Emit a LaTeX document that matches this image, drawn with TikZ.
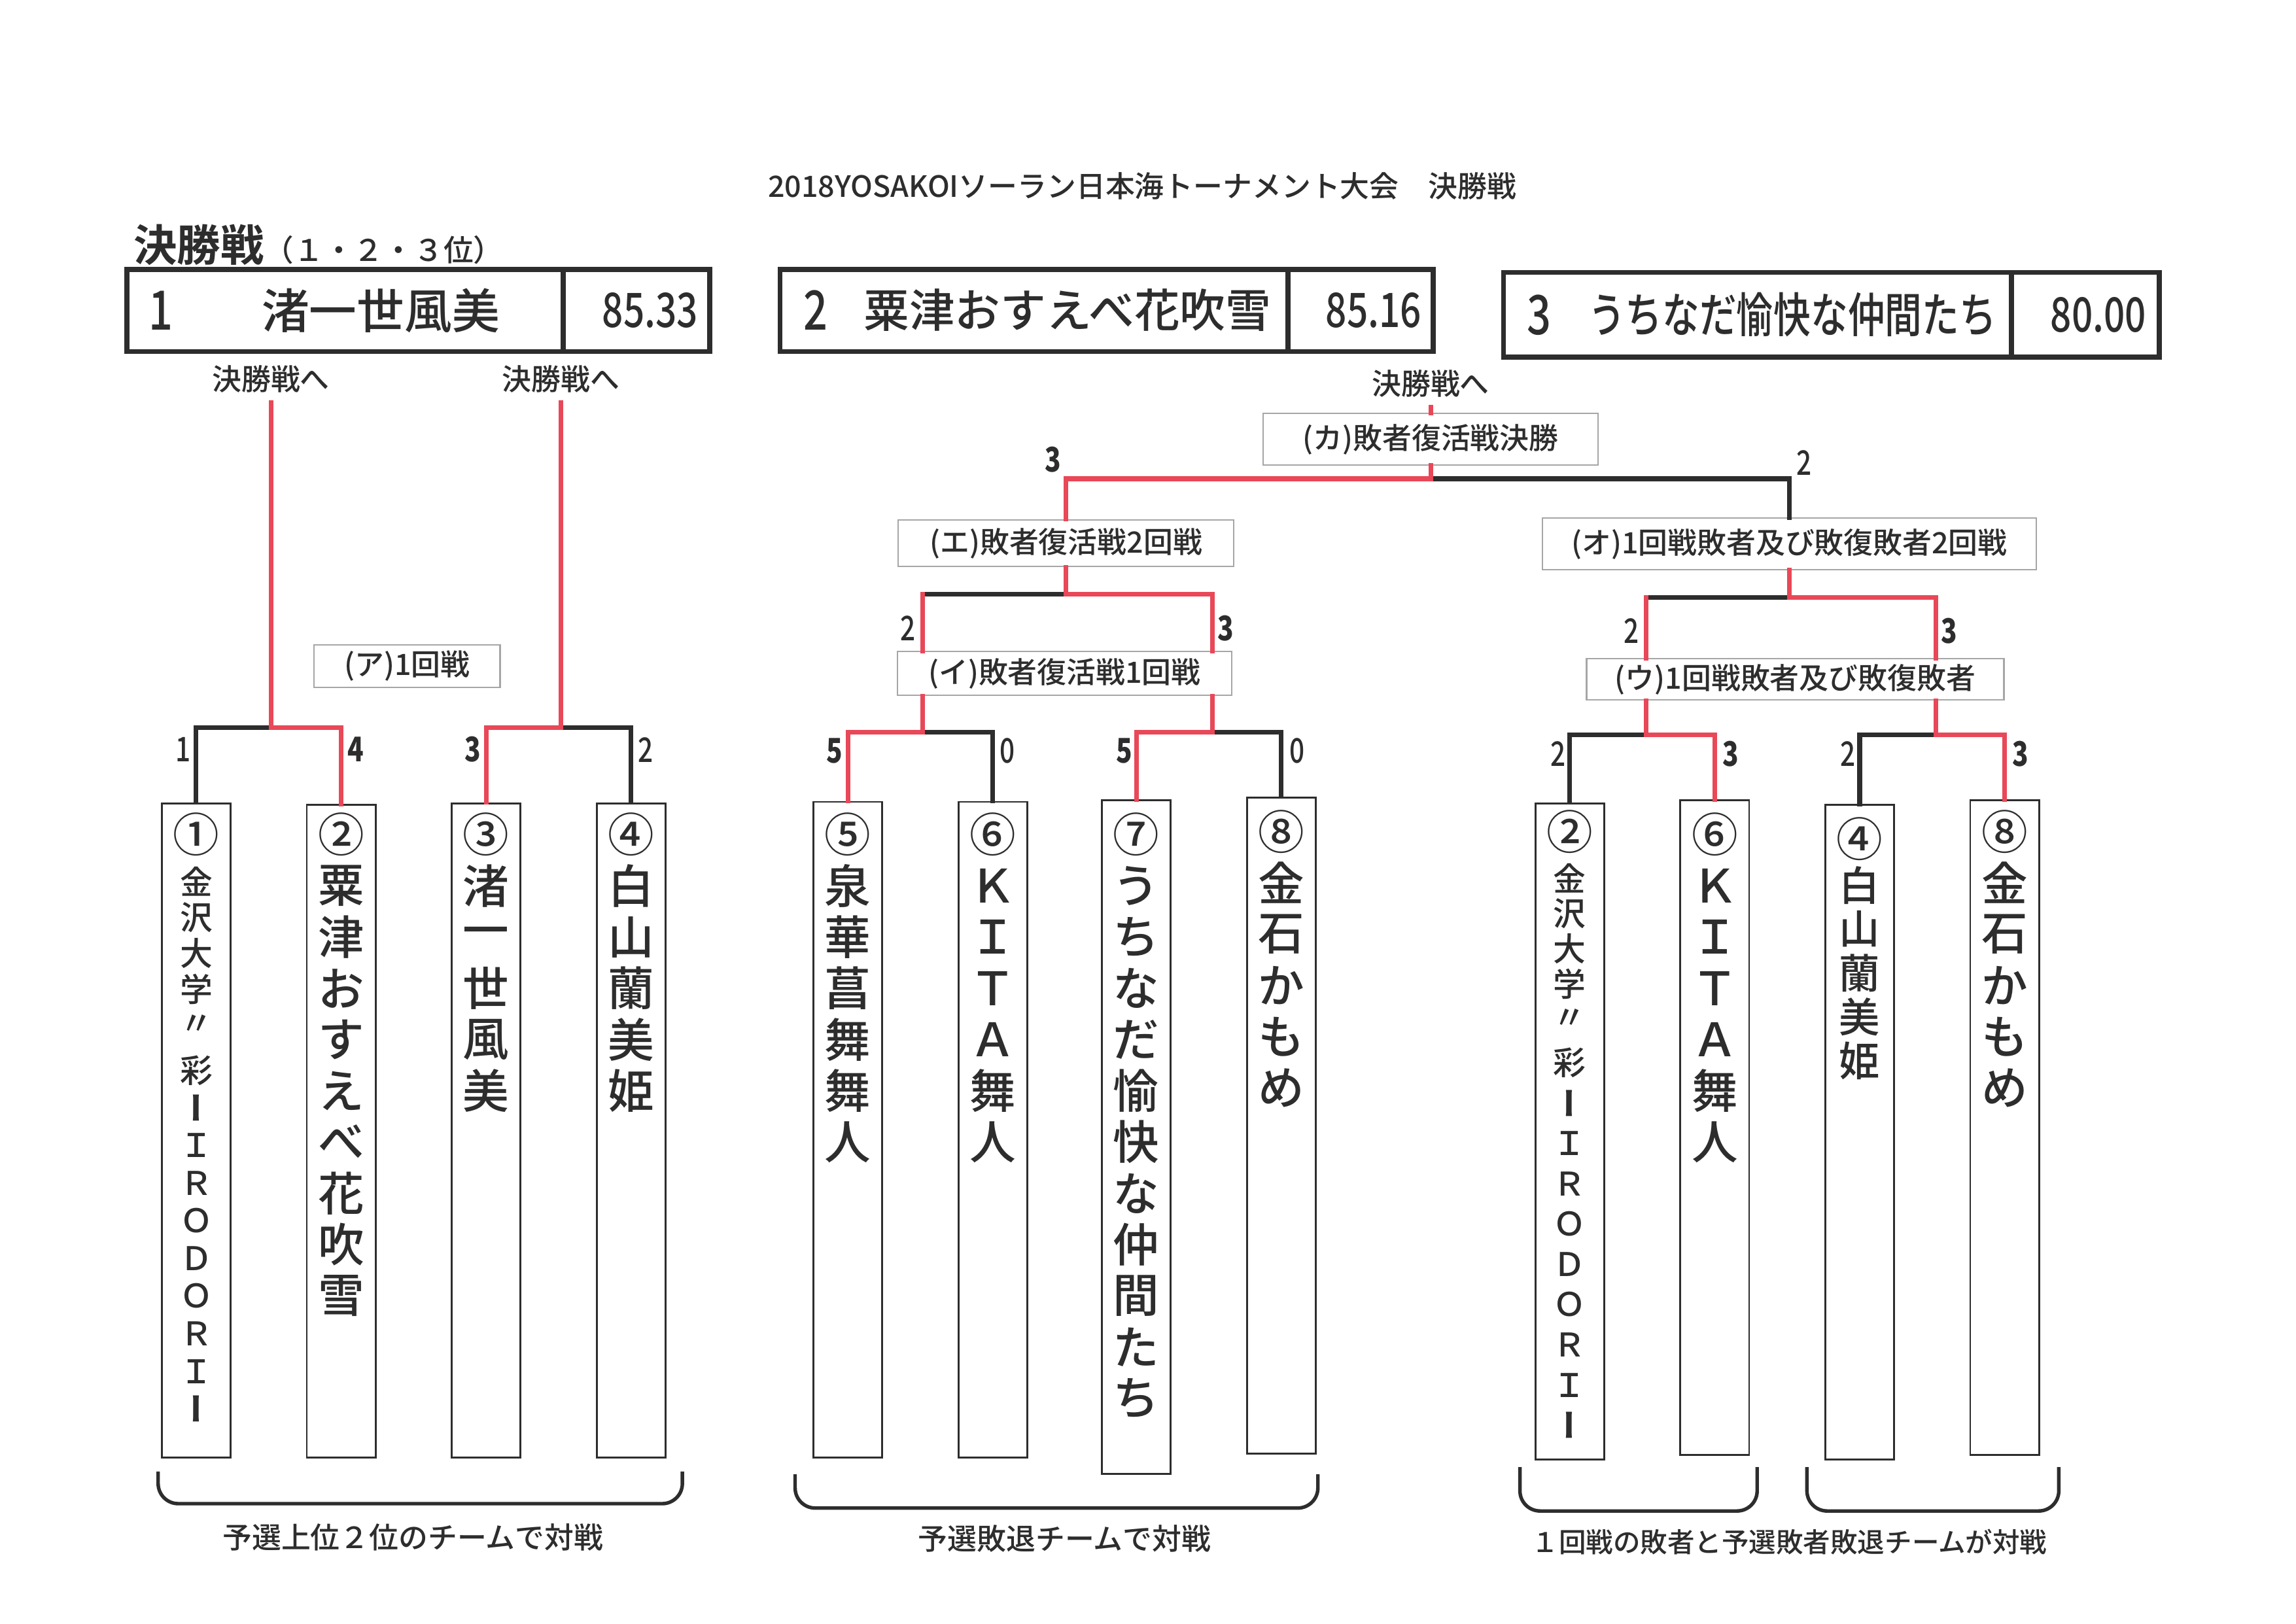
\documentclass[tikz,border=0pt]{standalone}
\usepackage{fontspec}
\setmainfont{Noto Sans CJK JP}[UprightFont=* Medium, BoldFont=* Bold]
\newfontfamily\condfont{Noto Sans CJK JP Medium}[FakeStretch=0.78]
\newfontfamily\condbold{Noto Sans CJK JP}[FakeStretch=0.78]
\newfontfamily\vertfont{Noto Sans CJK JP}[RawFeature=+vert]
\newcommand{\vbar}{{\vertfont\bfseries ー}}
\newlength{\unitpx}
\setlength{\unitpx}{0.18941mm}
\definecolor{winred}{RGB}{232,72,88}
\definecolor{ink}{RGB}{45,45,45}
\tikzset{
  teambox/.style={draw=ink, line width=0.7pt, fill=white, minimum width=47\unitpx, anchor=north, inner sep=0pt},
  resultbox/.style={draw=ink, line width=1.8pt, anchor=west, inner sep=0pt},
  roundbox/.style={draw=black!35, line width=0.5pt, fill=white, inner sep=0pt},
  labeltext/.style={font=\fontsize{10.8}{12}\selectfont, text=ink},
  losspath/.style={draw=ink, line width=1.7pt, line cap=rect},
  winpath/.style={draw=winred, line width=1.7pt, line cap=rect},
  pts/.style={font=\condfont\fontsize{12.5}{13}\selectfont, text=ink, inner sep=1pt},
  winpts/.style={pts, font=\condbold\bfseries\fontsize{12.5}{13}\selectfont},
  bigchar/.style={font=\fontsize{17}{17}\selectfont, text=ink, inner sep=0pt},
  midchar/.style={font=\fontsize{15}{15}\selectfont, text=ink, inner sep=0pt},
  smallchar/.style={font=\fontsize{12}{12}\selectfont, text=ink, inner sep=0pt},
  brace/.style={draw=ink, line width=1.3pt, rounded corners=2.6mm},
}
\begin{document}
\begin{tikzpicture}[x=0.18941mm, y=-0.18941mm]
  \fill[white] (0,0) rectangle (1568,1109);
  \useasboundingbox (0,0) rectangle (1568,1109);

  % title and heading
  \node[labeltext] (title) at (780,127) {2018YOSAKOIソーラン日本海トーナメント大会　決勝戦};
  \node[anchor=west, text=ink, inner sep=0pt] (heading) at (91,167)
    {{\bfseries\fontsize{16}{16}\selectfont 決勝戦}{\fontsize{11}{11}\selectfont （１・２・３位）}};

  % result boxes (name cell / score cell)
  \foreach \n/\xa/\xb/\xc/\y/\h in {1/85/383/483/212/56, 2/531/878/977/212/56, 3/1025/1372/1473/215/58}{
    \pgfmathsetmacro{\wa}{\xb - \xa}
    \pgfmathsetmacro{\wb}{\xc - \xb}
    \node[resultbox, minimum width=\wa\unitpx, minimum height=\h\unitpx] (res\n) at (\xa,\y) {};
    \node[resultbox, minimum width=\wb\unitpx, minimum height=\h\unitpx] (score\n) at (\xb,\y) {};
  }
  \node[font=\condfont\fontsize{20}{20}\selectfont, text=ink] (rank1) at (110,212) {1};
  \node[font=\fontsize{17.5}{18}\selectfont, text=ink] (name1) at (260,212) {渚一世風美};
  \node[font=\condfont\fontsize{17.5}{18}\selectfont, text=ink] (pt1) at (444,212) {85.33};
  \node[font=\condfont\fontsize{20}{20}\selectfont, text=ink] (rank2) at (557,212) {2};
  \node[font=\fontsize{16.8}{18}\selectfont, text=ink] (name2) at (729,212) {粟津おすえべ花吹雪};
  \node[font=\condfont\fontsize{17.5}{18}\selectfont, text=ink] (pt2) at (938,212) {85.16};
  \node[font=\condfont\fontsize{20}{20}\selectfont, text=ink] (rank3) at (1051,215) {3};
  \node[font=\condfont\fontsize{17.5}{18}\selectfont, text=ink] (name3) at (1224,215) {うちなだ愉快な仲間たち};
  \node[font=\condfont\fontsize{17.5}{18}\selectfont, text=ink] (pt3) at (1433,215) {80.00};

  \node[labeltext] (final1) at (185,259) {決勝戦へ};
  \node[labeltext] (final2) at (383,259) {決勝戦へ};
  \node[labeltext] (final3) at (977,262) {決勝戦へ};

  % round labels
  \node[roundbox, labeltext, minimum width=127\unitpx, minimum height=29\unitpx] (roundA) at (278,455) {(ア)1回戦};
  \node[roundbox, labeltext, minimum width=229\unitpx, minimum height=35\unitpx] (roundKa) at (977,300) {(カ)敗者復活戦決勝};
  \node[roundbox, labeltext, minimum width=229\unitpx, minimum height=32\unitpx] (roundE) at (728,371) {(エ)敗者復活戦2回戦};
  \node[roundbox, labeltext, minimum width=228\unitpx, minimum height=30\unitpx] (roundI) at (727,460) {(イ)敗者復活戦1回戦};
  \node[roundbox, labeltext, minimum width=337\unitpx, minimum height=35\unitpx] (roundO) at (1222,371.5) {(オ)1回戦敗者及び敗復敗者2回戦};
  \node[roundbox, labeltext, minimum width=285\unitpx, minimum height=28\unitpx] (roundU) at (1226,464) {(ウ)1回戦敗者及び敗復敗者};

  % team boxes
  \foreach \id/\x/\y/\h in {ta1/134/548/447, ta2/233/549/446, ta3/332/548/447, ta4/431/548/447,
      tb1/579/547/448, tb2/678/547/448, tb3/776/546/460, tb4/875/544/448,
      tc1/1072/548/448, tc2/1171/546/447, tc3/1270/549/447, tc4/1369/546/447}
    \node[teambox, minimum height=\h\unitpx] (\id) at (\x,\y) {};

  % vertical team names
  \foreach \x/\y/\dy/\st/\chars in {
      134/570/0/bigchar/{①},
      134/602/24.5/smallchar/{金,沢,大,学,〃},
      134/731/25.7/smallchar/{彩,\vbar,Ｉ,Ｒ,Ｏ,Ｄ,Ｏ,Ｒ,Ｉ,\vbar},
      233/570/35/bigchar/{②,粟,津,お,す,え,べ,花,吹,雪},
      332/570/35/bigchar/{③,渚,一,世,風,美},
      431/570/35/bigchar/{④,白,山,蘭,美,姫},
      579/570/35/bigchar/{⑤,泉,華,菖,舞,舞,人},
      678/570/35/bigchar/{⑥,Ｋ,Ｉ,Ｔ,Ａ,舞,人},
      776/570/35/bigchar/{⑦,う,ち,な,だ,愉,快,な,仲,間,た,ち},
      875/568/35/bigchar/{⑧,金,石,か,も,め},
      1072/568/0/bigchar/{②},
      1072/600/24/smallchar/{金,沢,大,学,〃},
      1072/726/27.5/smallchar/{彩,\vbar,Ｉ,Ｒ,Ｏ,Ｄ,Ｏ,Ｒ,Ｉ,\vbar},
      1171/570/35/bigchar/{⑥,Ｋ,Ｉ,Ｔ,Ａ,舞,人},
      1270/573/0/bigchar/{④},
      1270/604.5/30/midchar/{白,山,蘭,美,姫},
      1369/568/35/bigchar/{⑧,金,石,か,も,め}}{
    \foreach \c [count=\i] in \chars {
      \pgfmathsetmacro{\ypos}{\y + (\i - 1) * \dy}
      \node[\st] (ch-\x-\y-\i) at (\x,\ypos) {\c};
    }
  }

  % first round
  \coordinate (ja1) at (185,497);
  \coordinate (ja2) at (383,497);
  \draw[losspath] (ta1.north) |- (ja1);
  \draw[winpath] (ta2.north) |- (ja1) -- (final1.south);
  \draw[losspath] (ta4.north) |- (ja2);
  \draw[winpath] (ta3.north) |- (ja2) -- (final2.south);

  % repechage
  \coordinate (jb1) at (630,500);
  \coordinate (jb2) at (828,500);
  \coordinate (je) at (728,406);
  \draw[losspath] (tb2.north) |- (jb1);
  \draw[losspath] (tb4.north) |- (jb2);
  \draw[winpath] (tb1.north) |- (jb1) -- (jb1 |- roundI.south);
  \draw[winpath] (tb3.north) |- (jb2) -- (jb2 |- roundI.south);
  \draw[losspath] (je) -- (je -| jb1);
  \draw[winpath] (jb1 |- roundI.north) -- (jb1 |- je);
  \draw[winpath] (jb2 |- roundI.north) |- (je) -- (roundE.south);

  % first round losers
  \coordinate (jc1) at (1124,502);
  \coordinate (jc2) at (1322,502);
  \coordinate (jo) at (1222,408);
  \draw[losspath] (tc1.north) |- (jc1);
  \draw[losspath] (tc3.north) |- (jc2);
  \draw[winpath] (tc2.north) |- (jc1) -- (jc1 |- roundU.south);
  \draw[winpath] (tc4.north) |- (jc2) -- (jc2 |- roundU.south);
  \draw[losspath] (jo) -- (jo -| jc1);
  \draw[winpath] (jc1 |- roundU.north) -- (jc1 |- jo);
  \draw[winpath] (jc2 |- roundU.north) |- (jo) -- (roundO.south);

  % repechage final
  \coordinate (jf) at (977,327);
  \draw[losspath] (roundO.north) |- (jf);
  \draw[winpath] (roundE.north) |- (jf) -- (roundKa.south);
  \draw[winpath] (roundKa.north) -- (final3.south);

  % match scores
  \foreach \x/\y/\v/\st [count=\k] in {125/512/1/pts, 243/512/4/winpts, 323/512/3/winpts, 441/512/2/pts,
      570/513/5/winpts, 688/513/0/pts, 768/513/5/winpts, 886/513/0/pts,
      620/429/2/pts, 837/429/3/winpts, 719/314/3/winpts, 1232/316/2/pts,
      1114/431/2/pts, 1331/431/3/winpts,
      1064/515/2/pts, 1182/515/3/winpts, 1262/515/2/pts, 1380/515/3/winpts}
    \node[\st] (pts\k) at (\x,\y) {\v};

  % braces and notes
  \draw[brace] (108,1005) -- (108,1027) -- (466,1027) -- (466,1005);
  \draw[brace] (543,1007) -- (543,1030) -- (900,1030) -- (900,1007);
  \draw[brace] (1038,1002) -- (1038,1032) -- (1200,1032) -- (1200,1002);
  \draw[brace] (1234,1002) -- (1234,1032) -- (1406,1032) -- (1406,1002);
  \node[labeltext] (noteA) at (282,1050) {予選上位２位のチームで対戦};
  \node[labeltext] (noteB) at (727,1051) {予選敗退チームで対戦};
  \node[labeltext, font=\fontsize{10}{12}\selectfont] (noteC) at (1222,1053) {１回戦の敗者と予選敗者敗退チームが対戦};
\end{tikzpicture}
\end{document}
